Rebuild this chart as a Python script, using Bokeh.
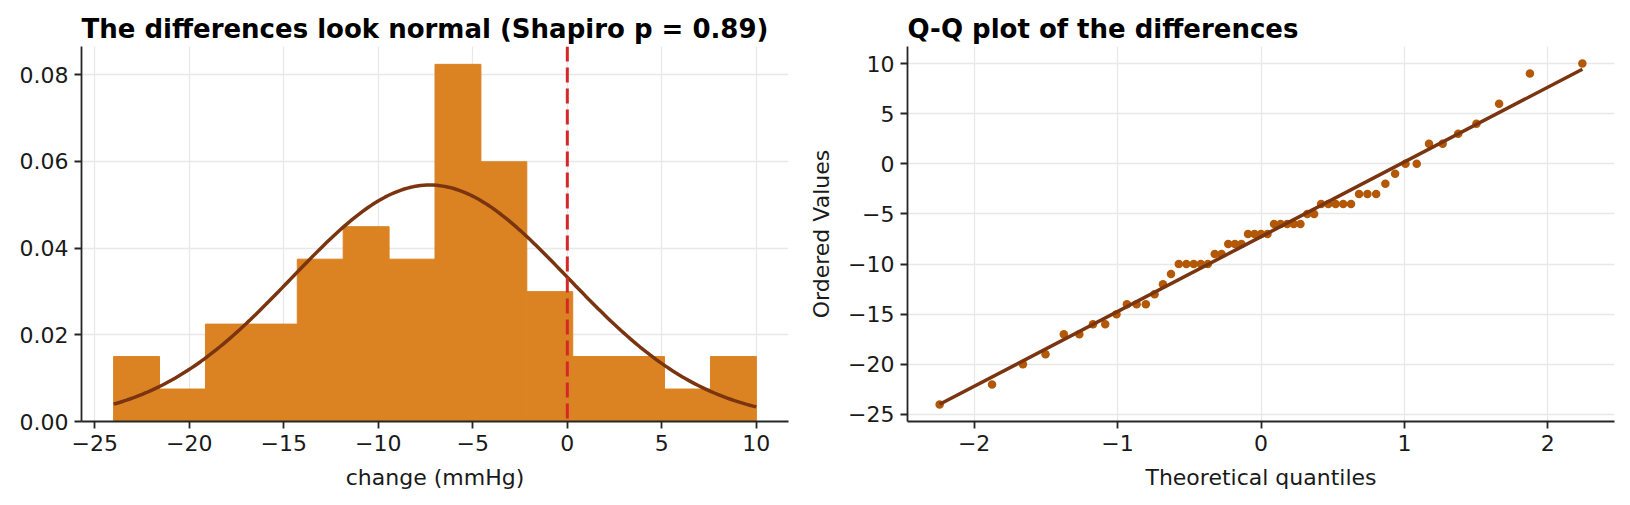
import numpy as np
from statistics import NormalDist
from bokeh.plotting import figure
from bokeh.layouts import row
from bokeh.models import Range1d, FixedTicker, CustomJSTickFormatter, Span
from bokeh.embed import file_html
from bokeh.resources import INLINE

# paired differences (after - before)
differences = [-24, -22, -20, -19, -17, -17, -16, -16, -15, -14, -14, -14, -13, -12,
               -11, -10, -10, -10, -10, -10, -9, -9, -8, -8, -8, -7, -7, -7, -7,
               -6, -6, -6, -6, -6, -5, -5, -4, -4, -4, -4, -4, -3, -3, -3, -2, -1,
               0, 0, 2, 2, 3, 4, 6, 9, 10]
n_bins = 14
reference_change = 0

hist_x_ticks = [-25, -20, -15, -10, -5, 0, 5, 10]
hist_y_ticks = [0.0, 0.02, 0.04, 0.06, 0.08]
qq_x_ticks = [-2, -1, 0, 1, 2]
qq_y_ticks = [-25, -20, -15, -10, -5, 0, 5, 10]

hist_title = "The differences look normal (Shapiro p = 0.89)"
qq_title = "Q-Q plot of the differences"

FONT = "DejaVu Sans"
BAR = "#db8322"
DARK = "#7a3510"
POINT = "#b35806"
RED = "#d62728"

d = np.array(differences, dtype=float)
density, edges = np.histogram(d, bins=n_bins, density=True)

# normal curve from the sample mean / sd
mu, sd = d.mean(), d.std(ddof=1)
xs = np.linspace(d.min(), d.max(), 200)
pdf = [NormalDist(mu, sd).pdf(x) for x in xs]

# order statistic medians like scipy.stats.probplot
n = len(d)
m = (np.arange(1, n + 1) - 0.3175) / (n + 0.365)
m[-1] = 0.5 ** (1.0 / n)
m[0] = 1 - m[-1]
osm = np.array([NormalDist().inv_cdf(q) for q in m])
osr = np.sort(d)
slope, intercept = np.polyfit(osm, osr, 1)

minus_fmt = CustomJSTickFormatter(code="return (tick < 0 ? '\\u2212' : '') + Math.abs(tick).toString();")


def pad(lo, hi, frac=0.05):
    span = hi - lo
    return lo - frac * span, hi + frac * span


def style(p):
    p.outline_line_color = None
    p.background_fill_color = "white"
    p.title.text_font = FONT
    p.title.text_font_size = "26px"
    p.title.text_font_style = "bold"
    p.title.text_color = "black"
    p.title.align = "left"
    p.title.standoff = 6
    for ax in (p.xaxis, p.yaxis):
        ax.axis_line_color = "#262626"
        ax.axis_line_width = 1.8
        ax.major_tick_line_color = "#262626"
        ax.major_tick_line_width = 1.8
        ax.major_tick_out = 7
        ax.major_tick_in = 0
        ax.minor_tick_out = 0
        ax.minor_tick_in = 0
        ax.major_label_text_font = FONT
        ax.major_label_text_font_size = "22px"
        ax.major_label_text_color = "#1a1a1a"
        ax.major_label_standoff = 6
        ax.axis_label_text_font = FONT
        ax.axis_label_text_font_size = "22px"
        ax.axis_label_text_font_style = "normal"
        ax.axis_label_text_color = "#1a1a1a"
        ax.axis_label_standoff = 11
    p.grid.grid_line_color = "#e8e8e8"
    p.grid.grid_line_width = 1.3


# ---- left: histogram with normal fit ----
hx0, hx1 = pad(d.min(), d.max())
p1 = figure(width=800, height=497, output_backend="svg", toolbar_location=None,
            x_range=Range1d(hx0, hx1), y_range=Range1d(0, density.max() * 1.05),
            title=hist_title, x_axis_label="change (mmHg)",
            min_border_left=81, min_border_right=12, min_border_top=46, min_border_bottom=76)
style(p1)
p1.quad(left=edges[:-1], right=edges[1:], bottom=0, top=density,
        fill_color=BAR, fill_alpha=1.0, line_color=BAR, line_width=1)
p1.line(xs, pdf, line_color=DARK, line_width=3.5)
p1.add_layout(Span(location=reference_change, dimension="height", line_color=RED,
                   line_width=3, line_dash="15 6"))
p1.xaxis.ticker = FixedTicker(ticks=hist_x_ticks)
p1.xaxis.formatter = minus_fmt
p1.yaxis.ticker = FixedTicker(ticks=hist_y_ticks)
p1.yaxis.formatter = CustomJSTickFormatter(code="return tick.toFixed(2);")

# ---- right: Q-Q plot ----
qx0, qx1 = pad(osm.min(), osm.max())
qy0, qy1 = pad(osr.min(), osr.max())
p2 = figure(width=822, height=497, output_backend="svg", toolbar_location=None,
            x_range=Range1d(qx0, qx1), y_range=Range1d(qy0, qy1),
            title=qq_title, x_axis_label="Theoretical quantiles", y_axis_label="Ordered Values",
            min_border_left=107, min_border_right=8, min_border_top=46, min_border_bottom=76)
style(p2)
p2.scatter(osm, osr, size=8.5, fill_color=POINT, line_color=None)
ends = np.array([osm.min(), osm.max()])
p2.line(ends, slope * ends + intercept, line_color=DARK, line_width=3.5)
p2.xaxis.ticker = FixedTicker(ticks=qq_x_ticks)
p2.xaxis.formatter = minus_fmt
p2.yaxis.ticker = FixedTicker(ticks=qq_y_ticks)
p2.yaxis.formatter = minus_fmt

layout = row(p1, p2)
open("out.html", "w").write(file_html(layout, INLINE))
